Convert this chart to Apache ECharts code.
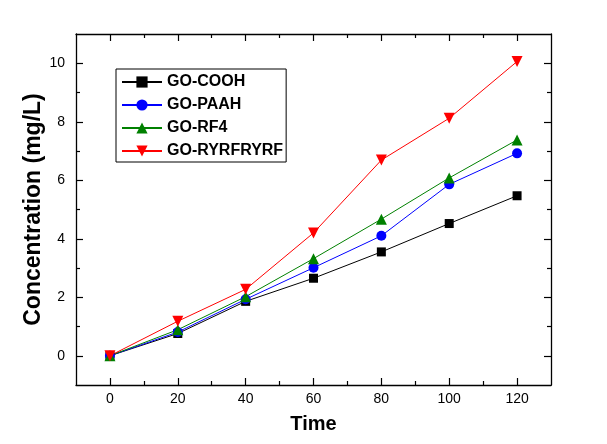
<!DOCTYPE html>
<html>
<head>
<meta charset="utf-8">
<script src="https://cdn.jsdelivr.net/npm/echarts@6/dist/echarts.min.js"></script>
<style>html,body{margin:0;padding:0;background:#fff}#c{width:607px;height:444px}</style>
</head>
<body>
<div id="c"></div>
<script>
var times = [0, 20, 40, 60, 80, 100, 120];
var goCOOH = [0, 0.76, 1.86, 2.65, 3.55, 4.52, 5.47];
var goPAAH = [0, 0.81, 1.93, 3.01, 4.10, 5.86, 6.92];
var goRF4 = [0, 0.89, 2.02, 3.32, 4.67, 6.08, 7.38];
var goRYRFRYRF = [0, 1.18, 2.27, 4.20, 6.69, 8.12, 10.06];
var xMajor = [0, 20, 40, 60, 80, 100, 120];
var xMinor = [10, 30, 50, 70, 90, 110];
var yMajor = [0, 2, 4, 6, 8, 10];
var yMinor = [1, 3, 5, 7, 9];

function pairs(v) { return times.map(function (t, i) { return [t, v[i]]; }); }

var FONT = 'Liberation Sans, Arial, sans-serif';
function xAx(pos, ticks, len, labels, line) {
  return {
    type: 'value', position: pos, min: -10, max: 130,
    axisLine: { show: line, onZero: false, lineStyle: { color: '#000', width: 1.3 } },
    axisTick: { show: true, inside: true, length: len, customValues: ticks, lineStyle: { color: '#000', width: 1.2 } },
    axisLabel: { show: labels, customValues: ticks, color: '#000', fontSize: 14, fontFamily: FONT, margin: 7 },
    splitLine: { show: false }
  };
}
function yAx(pos, ticks, len, labels, line) {
  return {
    type: 'value', position: pos, min: -1, max: 11,
    axisLine: { show: line, onZero: false, lineStyle: { color: '#000', width: 1.3 } },
    axisTick: { show: true, inside: true, length: len, customValues: ticks, lineStyle: { color: '#000', width: 1.2 } },
    axisLabel: { show: labels, customValues: ticks, color: '#000', fontSize: 14, fontFamily: FONT, margin: 11 },
    splitLine: { show: false }
  };
}

var xa0 = xAx('bottom', xMajor, 7, true, true);
xa0.name = 'Time'; xa0.nameLocation = 'middle'; xa0.nameGap = 29;
xa0.nameTextStyle = { color: '#000', fontSize: 20, fontWeight: 'bold', fontFamily: FONT };
var ya0 = yAx('left', yMajor, 7, true, true);
ya0.name = 'Concentration (mg/L)'; ya0.nameLocation = 'middle'; ya0.nameGap = 31;
ya0.nameMoveOverlap = false;
ya0.nameTextStyle = { color: '#000', fontSize: 23, fontWeight: 'bold', fontFamily: FONT };

function ser(name, data, color, symbol, size, rot) {
  return {
    name: name, type: 'line', data: pairs(data), xAxisIndex: 0, yAxisIndex: 0,
    symbol: symbol, symbolSize: size, symbolRotate: rot || 0, showAllSymbol: true,
    lineStyle: { color: color, width: 1 }, itemStyle: { color: color },
    emphasis: { disabled: true }, animation: false
  };
}

var chart = echarts.init(document.getElementById('c'));
chart.setOption({
  animation: false,
  grid: { left: 76, right: 56, top: 34, bottom: 59, containLabel: false },
  legend: {
    orient: 'vertical', left: 116, top: 69,
    borderColor: '#000', borderWidth: 1, padding: [5, 3, 3, 5],
    itemWidth: 40, itemHeight: 14, itemGap: 7,
    textStyle: { color: '#000', fontSize: 16, fontWeight: 'bold', fontFamily: FONT },
    data: ['GO-COOH', 'GO-PAAH', 'GO-RF4', 'GO-RYRFRYRF']
  },
  xAxis: [xa0, xAx('bottom', xMinor, 4, false, false), xAx('top', xMajor, 7, false, true), xAx('top', xMinor, 4, false, false)],
  yAxis: [ya0, yAx('left', yMinor, 4, false, false), yAx('right', yMajor, 7, false, true), yAx('right', yMinor, 4, false, false)],
  series: [
    ser('GO-COOH', goCOOH, '#000000', 'rect', 9),
    ser('GO-PAAH', goPAAH, '#0000ff', 'circle', 10),
    ser('GO-RF4', goRF4, '#008000', 'triangle', 11),
    ser('GO-RYRFRYRF', goRYRFRYRF, '#ff0000', 'triangle', 11, 180)
  ]
});
</script>
</body>
</html>
